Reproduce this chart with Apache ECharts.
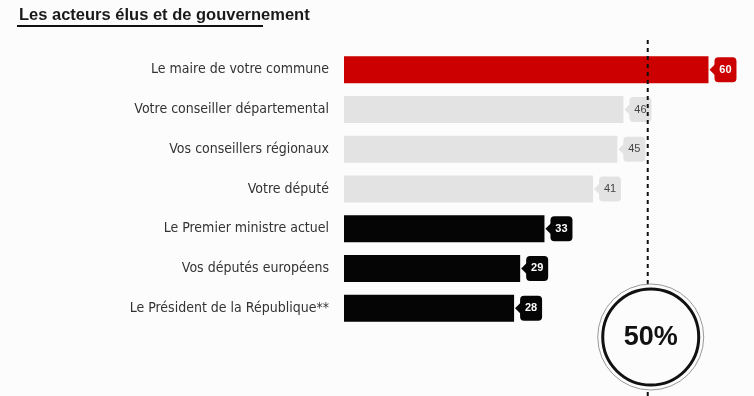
<!DOCTYPE html>
<html><head><meta charset="utf-8">
<script src="https://cdn.jsdelivr.net/npm/echarts@6/dist/echarts.min.js"></script>
<style>html,body{margin:0;padding:0;background:#fcfcfc}#c{width:754px;height:396px}</style>
</head><body><div id="c"></div>
<script>
const titleText = 'Les acteurs élus et de gouvernement';
const categories = ['Le maire de votre commune','Votre conseiller départemental','Vos conseillers régionaux','Votre député','Le Premier ministre actuel','Vos députés européens','Le Président de la République**'];
const values = [60, 46, 45, 41, 33, 29, 28];
const groups = ['red','grey','grey','grey','black','black','black'];
const threshold = 50;
const thresholdLabel = '50%';

const palette = {
  red:   {bar:'#cc0000', box:'#cc0000', text:'#ffffff', bold:true},
  grey:  {bar:'#e3e3e3', box:'#e3e3e3', text:'#444444', bold:false},
  black: {bar:'#050505', box:'#050505', text:'#ffffff', bold:true}
};

const chart = echarts.init(document.getElementById('c'));
chart.setOption({
  backgroundColor:'#fcfcfc',
  animation:false,
  title:{text:titleText,left:14,top:2,textStyle:{fontFamily:'Liberation Sans',fontSize:16.5,fontWeight:'bold',color:'#1a1a1a'}},
  graphic:[{type:'line',shape:{x1:17,y1:26,x2:263,y2:26},style:{stroke:'#111',lineWidth:2}}],
  grid:{left:344,top:50,height:278,right:3},
  xAxis:{type:'value',min:0,max:67,show:false},
  yAxis:{type:'category',data:categories,inverse:true,axisLine:{show:false},axisTick:{show:false},
    axisLabel:{margin:15,fontFamily:'DejaVu Sans Condensed, sans-serif',fontSize:14,color:'#333'}},
  series:[
    {type:'bar',barWidth:27,data:values.map((v,i)=>({value:v,itemStyle:{color:palette[groups[i]].bar}})),silent:true,z:2},
    {type:'custom',z:3,silent:true,
      data:values.map((v,i)=>[v,i]),
      renderItem:function(params,api){
        const i=params.dataIndex;const v=api.value(0);
        const p=api.coord([v,api.value(1)]);
        const pal=palette[groups[i]];
        const w = 22, h=25, x0=p[0]+6;
        return {type:'group',children:[
          {type:'polygon',shape:{points:[[p[0]+1,p[1]],[x0+1,p[1]-6],[x0+1,p[1]+6]]},style:{fill:pal.box}},
          {type:'rect',shape:{x:x0,y:p[1]-h/2,width:w,height:h,r:4},style:{fill:pal.box}},
          {type:'text',style:{text:String(v),x:x0+w/2,y:p[1],align:'center',verticalAlign:'middle',
            fontFamily:'Liberation Sans',fontSize:11,fontWeight:pal.bold?'bold':'normal',fill:pal.text}}
        ]};
      }},
    {type:'custom',z:4,silent:true,data:[[threshold]],
      renderItem:function(params,api){
        const cs=params.coordSys;
        const x=api.coord([api.value(0),0])[0];
        const cy=cs.y+cs.height+9;
        return {type:'group',children:[
          {type:'line',shape:{x1:x,y1:cs.y-10,x2:x,y2:396},style:{stroke:'#111',lineWidth:2,lineDash:[4,4]}},
          {type:'circle',shape:{cx:x+3,cy:cy,r:53},style:{fill:'#fcfcfc',stroke:'#999',lineWidth:1}},
          {type:'circle',shape:{cx:x+3,cy:cy,r:48},style:{fill:'#fcfcfc',stroke:'#111',lineWidth:3}},
          {type:'text',style:{text:thresholdLabel,x:x+3,y:cy+1,align:'center',verticalAlign:'middle',fontFamily:'Liberation Sans',fontSize:27,fontWeight:'bold',fill:'#111'}}
        ]};
      }}
  ]
});
</script></body></html>
